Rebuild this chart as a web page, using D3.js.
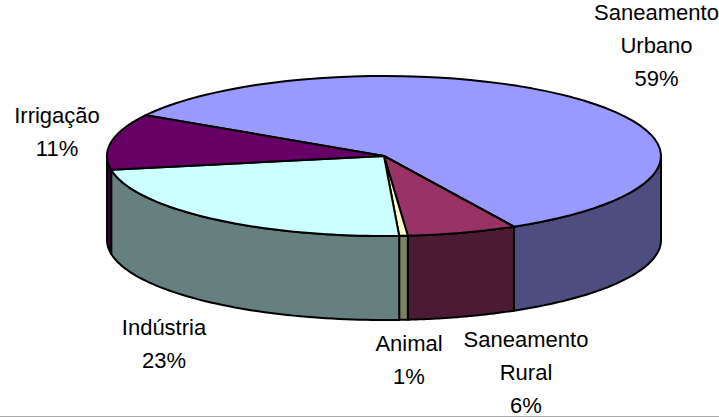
<!DOCTYPE html>
<html><head><meta charset="utf-8"><style>html,body{margin:0;background:#fff}svg{display:block}</style>
<script src="https://cdn.jsdelivr.net/npm/d3@7"></script></head><body><script>
const categories=["Saneamento Urbano","Saneamento Rural","Animal","Indústria","Irrigação"];
const values=[58.7,6.4,0.5,23.1,11.3];
const topColors=["#9999FF","#993366","#FFFFCC","#CCFFFF","#660066"];
const sideColors=["#4D4D80","#4D1A33","#808066","#668080","#330033"];
const labelLines=[["Saneamento","Urbano","59%"],["Saneamento","Rural","6%"],["Animal","1%"],["Indústria","23%"],["Irrigação","11%"]];
const labelX=[656.5,526,409,164,57];
const labelY=[20,347,351,335,123];
const W=719,H=417,cx=384,cy=156,rx=277,ry=80,depth=84;
const svg=d3.select("body").append("svg").attr("width",W).attr("height",H).style("font-family","'Liberation Sans',Arial,sans-serif");
const start=-59.3*Math.PI/180;
const arcs=d3.pie().sort(null).startAngle(start).endAngle(start+2*Math.PI)(values);
const px=a=>cx+rx*Math.sin(a),py=a=>cy-ry*Math.cos(a);
const line=d3.line();
const samples=(a,b)=>d3.range(0,61).map(i=>a+(b-a)*i/60);
const lo=Math.PI/2,hi=3*Math.PI/2;
arcs.forEach((d,i)=>{
  let a=Math.max(d.startAngle,lo),b=Math.min(d.endAngle,hi);
  if(b<=a)return;
  const s=samples(a,b);
  const pts=s.map(t=>[px(t),py(t)]).concat(s.slice().reverse().map(t=>[px(t),py(t)+depth]));
  svg.append("path").attr("d",line(pts)+"Z").attr("fill",sideColors[i]).attr("stroke","#000").attr("stroke-width",2).attr("stroke-linejoin","round");
});
arcs.forEach((d,i)=>{
  const pts=[[cx,cy]].concat(samples(d.startAngle,d.endAngle).map(t=>[px(t),py(t)]));
  svg.append("path").attr("d",line(pts)+"Z").attr("fill",topColors[i]).attr("stroke","#000").attr("stroke-width",2).attr("stroke-linejoin","round");
});
labelLines.forEach((ls,i)=>{
  const t=svg.append("text").attr("text-anchor","middle").attr("font-size",22).attr("fill","#000");
  ls.forEach((l,j)=>t.append("tspan").attr("x",labelX[i]).attr("y",labelY[i]+j*33).text(l));
});
svg.append("line").attr("x1",0).attr("x2",W).attr("y1",416.5).attr("y2",416.5).attr("stroke","#aaa");
</script></body></html>
